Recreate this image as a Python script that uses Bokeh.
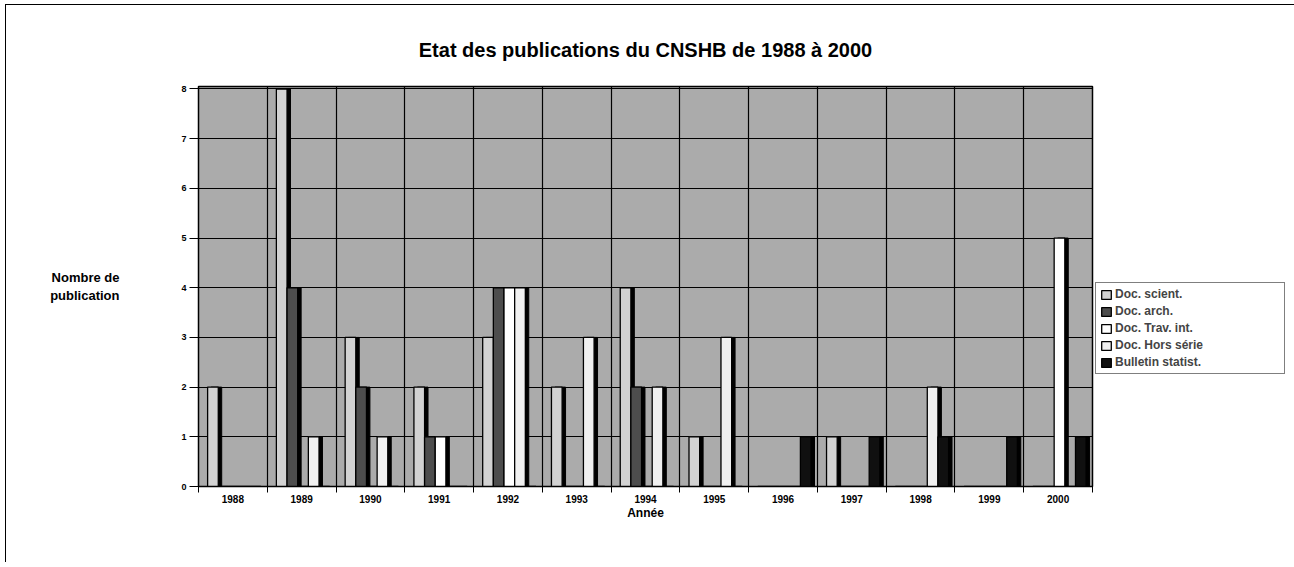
from bokeh.plotting import figure
from bokeh.models import Range1d, FixedTicker, Legend, LegendItem, ColumnDataSource
from bokeh.transform import dodge
from bokeh.embed import file_html
from bokeh.resources import INLINE

# ---------------- data ----------------
years = ["1988", "1989", "1990", "1991", "1992", "1993", "1994",
         "1995", "1996", "1997", "1998", "1999", "2000"]
doc_scient = [2, 8, 3, 2, 3, 2, 4, 1, 0, 1, 0, 0, 0]
doc_arch = [0, 4, 2, 1, 4, 0, 2, 0, 0, 0, 0, 0, 0]
doc_trav = [0, 0, 0, 1, 4, 0, 0, 0, 0, 0, 0, 0, 5]
doc_hors = [0, 1, 1, 0, 4, 3, 2, 3, 0, 0, 2, 0, 0]
bulletin = [0, 0, 0, 0, 0, 0, 0, 0, 1, 1, 1, 1, 1]
series_labels = ["Doc. scient.", "Doc. arch.", "Doc. Trav. int.",
                 "Doc. Hors série", "Bulletin statist."]
y_ticks = [0, 1, 2, 3, 4, 5, 6, 7, 8]
title_text = "Etat des publications du CNSHB de 1988 à 2000"
y_label = "Nombre de\npublication"
x_label = "Année"

FONT = "Liberation Sans"
fills = ["#d2d2d2", "#4d4d4d", "#ffffff", "#f0f0f0", "#101010"]
cols = ["scient", "arch", "trav", "hors", "bull"]

n = len(years)
pos = [i + 0.5 for i in range(n)]
src = ColumnDataSource(dict(x=pos, scient=doc_scient, arch=doc_arch,
                            trav=doc_trav, hors=doc_hors, bull=bulletin))

p = figure(frame_width=894, frame_height=400, output_backend="svg", toolbar_location=None,
           x_range=Range1d(0, n), y_range=Range1d(0, 8.05),
           min_border_left=193, min_border_right=196,
           min_border_top=82, min_border_bottom=76)
p.margin = (4, 0, 0, 5)
p.styles = {"box-shadow": "inset 1px 1px 0 0 #000000"}

p.background_fill_color = "#ababab"
p.border_fill_alpha = 0
p.outline_line_color = "black"
p.outline_line_width = 1.5

# title
p.title.text = title_text
p.title.align = "center"
p.title.text_font = FONT
p.title.text_font_style = "bold"
p.title.text_font_size = "20px"
p.title.text_color = "black"
p.title.standoff = 51

# grid
p.xgrid.ticker = FixedTicker(ticks=list(range(n + 1)))
p.ygrid.ticker = FixedTicker(ticks=y_ticks)
for g in (p.xgrid, p.ygrid):
    g.grid_line_color = "black"
    g.grid_line_width = 1.2

# bars
bw = 0.155
items = []
for k, c in enumerate(cols):
    off = (k - 2) * bw + 0.02
    p.vbar(x=dodge("x", off + 0.05, range=p.x_range), top=c, width=bw, source=src,
           fill_color="black", line_color="black", line_width=1)
    r = p.vbar(x=dodge("x", off, range=p.x_range), top=c, width=bw, source=src,
               fill_color=fills[k], line_color="black", line_width=1.3)
    items.append(LegendItem(label=series_labels[k], renderers=[r]))

# axes
xa = p.xaxis[0]
xa.ticker = FixedTicker(ticks=pos, minor_ticks=list(range(n + 1)))
xa.major_label_overrides = {pos[i]: years[i] for i in range(n)}
xa.major_tick_line_color = None
xa.major_tick_out = 0
xa.major_tick_in = 0
xa.minor_tick_line_color = "black"
xa.minor_tick_out = 6
xa.minor_tick_in = 0
xa.major_label_standoff = 2
xa.major_label_text_font = FONT
xa.major_label_text_font_style = "bold"
xa.major_label_text_font_size = "10px"
xa.major_label_text_color = "black"
xa.axis_label = x_label
xa.axis_label_text_font = FONT
xa.axis_label_text_font_style = "bold"
xa.axis_label_text_font_size = "12px"
xa.axis_label_text_color = "black"
xa.axis_label_standoff = 0
xa.axis_line_color = "black"

ya = p.yaxis[0]
ya.ticker = FixedTicker(ticks=y_ticks)
ya.minor_tick_line_color = None
ya.major_tick_out = 9
ya.major_tick_in = 0
ya.major_tick_line_color = "black"
ya.major_label_standoff = 3
ya.major_label_text_font = FONT
ya.major_label_text_font_style = "bold"
ya.major_label_text_font_size = "9px"
ya.major_label_text_color = "black"
ya.axis_line_color = "black"
ya.axis_label = y_label
ya.axis_label_text_font = FONT
ya.axis_label_text_font_style = "bold"
ya.axis_label_text_font_size = "13px"
ya.axis_label_text_color = "black"
ya.axis_label_text_align = "center"
ya.axis_label_standoff = 59
try:
    ya.axis_label_orientation = "horizontal"
except Exception:
    pass

legend = Legend(items=items, location=(3, 112), orientation="vertical")
legend.label_text_font = FONT
legend.label_text_font_style = "bold"
legend.label_text_font_size = "12px"
legend.label_height = 13
legend.label_width = 165
legend.glyph_height = 11
legend.glyph_width = 12
legend.spacing = 3
legend.padding = 4
legend.margin = 0
legend.label_standoff = 3
legend.border_line_color = "black"
legend.border_line_width = 1
legend.background_fill_color = "white"
legend.background_fill_alpha = 1
p.add_layout(legend, "right")

open("out.html", "w").write(file_html(p, INLINE))
